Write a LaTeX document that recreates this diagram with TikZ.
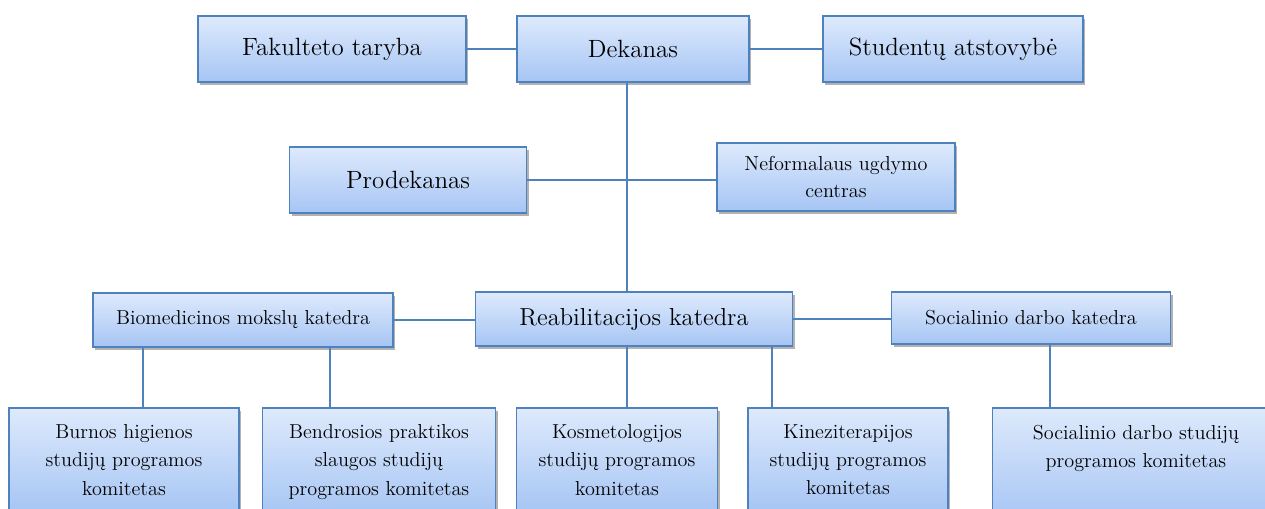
\documentclass[tikz,border=0pt]{standalone}
\usetikzlibrary{calc,shadows}

\definecolor{linija}{RGB}{79,129,189}
\definecolor{sviesi}{RGB}{222,234,252}
\definecolor{tamsi}{RGB}{166,197,244}

\newcommand{\didelis}{\fontsize{14.2}{18}\selectfont}
\newcommand{\vidutinis}{\fontsize{14}{17}\selectfont}
\newcommand{\mazas}{\fontsize{11.5}{15.5}\selectfont}

\tikzset{
    dezute/.style={draw=linija, line width=0.9pt, top color=sviesi, bottom color=tamsi,
        drop shadow={shadow xshift=1.2pt, shadow yshift=-1.6pt, fill=black, opacity=0.3},
        inner sep=0pt, align=center},
    virsus/.style={dezute, font=\didelis, minimum height=1.32cm},
    katedra/.style={dezute, font=\mazas, minimum height=1.08cm},
    komitetas/.style={dezute, font=\fontsize{11.5}{16}\selectfont, anchor=north, inner ysep=9.7pt},
    jungtis/.style={draw=linija, line width=1.15pt}
}

\begin{document}
\begin{tikzpicture}[x=0.02cm, y=0.02cm]

    \useasboundingbox (0,0) rectangle (1265,-508);

    % Virsutine eile
    \node[virsus, minimum width=5.36cm] (fak) at (332,-49) {Fakulteto taryba};
    \node[virsus, minimum width=4.64cm] (dek) at (633,-49) {Dekanas};
    \node[virsus, minimum width=5.2cm] (stud) at (953,-49) {Studentų atstovybė};

    % Prodekanas ir centras
    \node[virsus, minimum width=4.74cm] (prod) at (408,-180) {Prodekanas};
    \node[dezute, font=\mazas, minimum width=4.76cm, minimum height=1.36cm] (nef) at (836,-177) {Neformalaus ugdymo\\centras};

    % Katedros
    \node[dezute, font=\vidutinis, minimum width=6.34cm, minimum height=1.08cm] (reab) at (634,-319) {Reabilitacijos katedra};
    \node[katedra, minimum width=6.0cm] (bio) at (243,-320) {Biomedicinos mokslų katedra};
    \node[katedra, minimum width=5.58cm, minimum height=1.04cm] (soc) at (1031,-318) {Socialinio darbo katedra};

    % Studiju programu komitetai
    \node[komitetas, minimum width=4.6cm] (burn) at (124,-407) {Burnos higienos\\studijų programos\\komitetas};
    \node[komitetas, minimum width=4.66cm] (bend) at (379,-407) {Bendrosios praktikos\\slaugos studijų\\programos komitetas};
    \node[komitetas, minimum width=4.02cm] (kosm) at (617,-407) {Kosmetologijos\\studijų programos\\komitetas};
    \node[komitetas, minimum width=4.0cm] (kinez) at (848,-407) {Kineziterapijos\\studijų programos\\komitetas};
    \node[komitetas, minimum width=5.74cm] (socst) at (1136,-407) {Socialinio darbo studijų\\programos komitetas\\\strut};

    % Vertikaliu jungciu padetys
    \coordinate (kam) at ($(dek.south)+(-6,0)$);
    \coordinate (xa) at (143,0);
    \coordinate (xb) at (330,0);
    \coordinate (xd) at (772,0);
    \coordinate (xe) at (1050,0);

    % Jungtys
    \draw[jungtis] (fak.east) -- (fak.east -| dek.west);
    \draw[jungtis] (dek.east) -- (dek.east -| stud.west);
    \draw[jungtis] (kam) -- (kam |- reab.north);
    \draw[jungtis] (prod.east) -- (prod.east -| nef.west);
    \draw[jungtis] (bio.east) -- (bio.east -| reab.west);
    \draw[jungtis] (reab.east) -- (reab.east -| soc.west);

    \draw[jungtis] (bio.south -| xa) -- (burn.north -| xa);
    \draw[jungtis] (bio.south -| xb) -- (bend.north -| xb);
    \draw[jungtis] (reab.south -| kam) -- (kosm.north -| kam);
    \draw[jungtis] (reab.south -| xd) -- (kinez.north -| xd);
    \draw[jungtis] (soc.south -| xe) -- (socst.north -| xe);

\end{tikzpicture}
\end{document}
